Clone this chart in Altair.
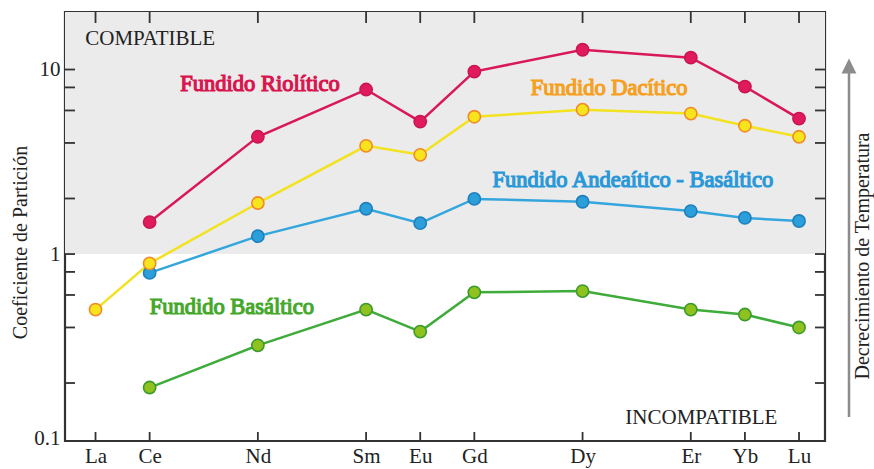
import altair as alt
import pandas as pd

# ---- data ----
elements = ["La", "Ce", "Nd", "Sm", "Eu", "Gd", "Dy", "Er", "Yb", "Lu"]
positions = [0, 1, 3, 5, 6, 7, 9, 11, 12, 13]
riolitico = [None, 1.49, 4.32, 7.79, 5.22, 9.75, 12.8, 11.6, 8.08, 5.42]
dacitico = [0.50, 0.89, 1.89, 3.86, 3.45, 5.55, 6.06, 5.77, 4.96, 4.32]
andesitico = [None, 0.79, 1.25, 1.76, 1.47, 1.99, 1.92, 1.71, 1.57, 1.51]
basaltico = [None, 0.189, 0.32, 0.50, 0.38, 0.62, 0.63, 0.50, 0.47, 0.40]

series_names = ["Basáltico", "Andesítico", "Dacítico", "Riolítico"]
series_values = [basaltico, andesitico, dacitico, riolitico]
line_colors = ["#3fab3a", "#35a6dd", "#f3e21f", "#d9185a"]
fill_colors = ["#8fc21f", "#2b9fd9", "#f7e41c", "#e11a5e"]
edge_colors = ["#3a9a2c", "#1f7fbd", "#f08a2a", "#c8174f"]

y_ticks = [0.2, 0.4, 0.6, 0.8, 1, 2, 4, 6, 8, 10]

label_texts = ["Fundido Riolítico", "Fundido Dacítico",
               "Fundido Andeaítico - Basáltico", "Fundido Basáltico"]
label_pos = [3.04, 9.49, 9.93, 2.52]
label_val = [8.3, 7.98, 2.52, 0.515]
label_colors = ["#d8154f", "#f5a020", "#2a98d8", "#45a82b"]

rows = []
for name, vals in zip(series_names, series_values):
    for el, p, v in zip(elements, positions, vals):
        if v is not None:
            rows.append({"series": name, "element": el, "pos": p, "value": v})
df = pd.DataFrame(rows)

W, H = 760, 429
xscale = alt.Scale(domain=[-0.564, 13.48], nice=False, zero=False)
yscale = alt.Scale(type="log", domain=[0.097, 20.5], nice=False)
SERIF = "Liberation Serif"
FRAME = "#333333"

lab_arr = [""] * 14
for el, p in zip(elements, positions):
    lab_arr[p] = el
lab_expr = "[" + ",".join("'%s'" % s for s in lab_arr) + "][round(datum.value)]"

base = alt.Chart(df)

# background band (compatible zone)
band = alt.Chart(pd.DataFrame({"lo": [1.0], "hi": [20.5]})).mark_rect(
    color="#ebebeb").encode(
    x=alt.value(0), x2=alt.value(W),
    y=alt.Y("lo:Q", scale=yscale, axis=alt.Axis(
        values=[0.1, 1, 10],
        labelExpr="datum.value < 0.5 ? '0.1' : (datum.value < 5 ? '1' : '10')",
        ticks=False, domain=False, grid=False, labelFont=SERIF, labelFontSize=21,
        labelColor="#222", labelPadding=5,
        title="Coeficiente de Partición", titleFont=SERIF, titleFontSize=20,
        titleFontWeight="normal", titleColor="#222", titleX=-45, titleY=230,
        titleAngle=270, titleAlign="center", titleBaseline="middle")),
    y2="hi:Q")

color_line = alt.Color("series:N", scale=alt.Scale(domain=series_names, range=line_colors), legend=None)
lines = base.mark_line(strokeWidth=2.5).encode(
    x=alt.X("pos:Q", scale=xscale, axis=alt.Axis(
        values=positions, labelExpr=lab_expr, ticks=False, domain=False, grid=False,
        labelFont=SERIF, labelFontSize=21, labelColor="#222", labelPadding=4,
        title=None)),
    y=alt.Y("value:Q", scale=yscale),
    color=color_line,
    detail="series:N")

points = base.mark_point(filled=True, size=150, strokeWidth=1.6, opacity=1).encode(
    x=alt.X("pos:Q", scale=xscale),
    y=alt.Y("value:Q", scale=yscale),
    fill=alt.Fill("series:N", scale=alt.Scale(domain=series_names, range=fill_colors), legend=None),
    stroke=alt.Stroke("series:N", scale=alt.Scale(domain=series_names, range=edge_colors), legend=None))

# inward ticks
ytick_df = pd.DataFrame({"v": y_ticks})
xtick_df = pd.DataFrame({"p": positions})
tick_style = dict(color=FRAME, strokeWidth=1.8)
left_ticks = alt.Chart(ytick_df).mark_rule(**tick_style).encode(
    x=alt.value(0), x2=alt.value(10), y=alt.Y("v:Q", scale=yscale))
right_ticks = alt.Chart(ytick_df).mark_rule(**tick_style).encode(
    x=alt.value(W - 10), x2=alt.value(W), y=alt.Y("v:Q", scale=yscale))
top_ticks = alt.Chart(xtick_df).mark_rule(**tick_style).encode(
    x=alt.X("p:Q", scale=xscale), y=alt.value(0), y2=alt.value(11))
bottom_ticks = alt.Chart(xtick_df).mark_rule(**tick_style).encode(
    x=alt.X("p:Q", scale=xscale), y=alt.value(H - 9), y2=alt.value(H))

# series labels (serif, thickened with a same-colour stroke)
lab_df = pd.DataFrame({"t": label_texts, "p": label_pos, "v": label_val, "c": label_colors})
labels = alt.Chart(lab_df).mark_text(
    font=SERIF, fontSize=22.5, fontWeight="normal", strokeWidth=1.2, align="center",
    baseline="middle").encode(
    x=alt.X("p:Q", scale=xscale), y=alt.Y("v:Q", scale=yscale),
    text="t:N", color=alt.Color("c:N", scale=None), stroke=alt.Stroke("c:N", scale=None))

compat = alt.Chart(pd.DataFrame({"t": ["COMPATIBLE"], "p": [-0.19], "v": [14.6]})).mark_text(
    font=SERIF, fontSize=21, color="#222", align="left", baseline="middle").encode(
    x=alt.X("p:Q", scale=xscale), y=alt.Y("v:Q", scale=yscale), text="t:N")
incompat = alt.Chart(pd.DataFrame({"t": ["INCOMPATIBLE"], "p": [12.6], "v": [0.13]})).mark_text(
    font=SERIF, fontSize=21, color="#222", align="right", baseline="middle").encode(
    x=alt.X("p:Q", scale=xscale), y=alt.Y("v:Q", scale=yscale), text="t:N")

# temperature arrow and label (outside the plot, right side)
arrow_line = alt.Chart(pd.DataFrame({"a": [0]})).mark_rule(color="#8c8c8c", strokeWidth=2.5).encode(
    x=alt.value(784), y=alt.value(58), y2=alt.value(405))
arrow_head = alt.Chart(pd.DataFrame({"a": [0]})).mark_point(
    shape="M-1,1 L0,-1 L1,1 Z", filled=True, color="#8c8c8c", size=220, opacity=1).encode(
    x=alt.value(784), y=alt.value(54))
temp_text = alt.Chart(pd.DataFrame({"t": ["Decrecimiento de Temperatura"]})).mark_text(
    font=SERIF, fontSize=20, color="#222", angle=270, align="center", baseline="middle").encode(
    x=alt.value(798), y=alt.value(244), text="t:N")

chart = alt.layer(
    band, left_ticks, right_ticks, top_ticks, bottom_ticks,
    lines, points, labels, compat, incompat, arrow_line, arrow_head, temp_text
).properties(
    width=W, height=H,
    autosize=alt.AutoSizeParams(type="none"),
    padding={"left": 65, "top": 12, "right": 49, "bottom": 28},
    background="white"
).configure_view(stroke=FRAME, strokeWidth=2.2)

chart.save("out.html", embed_options={"renderer": "svg", "actions": False})
